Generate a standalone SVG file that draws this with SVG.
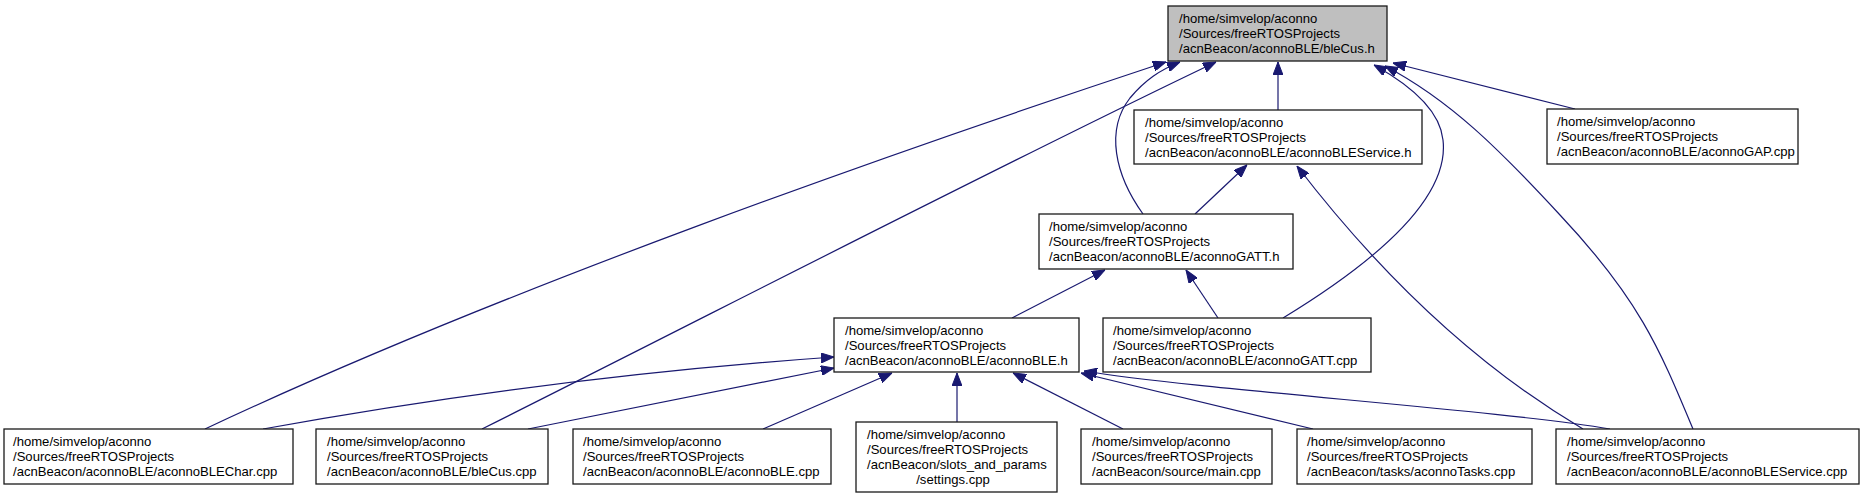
<svg xmlns="http://www.w3.org/2000/svg" width="1864" height="497" viewBox="0 0 1864 497">
<style>
.n rect{fill:#ffffff;stroke:#1a1a1a;stroke-width:1.3}
.n.root rect{fill:#bfbfbf}
.n text{font-family:"Liberation Sans",Arial,Helvetica,sans-serif;font-size:13.1px;fill:#000000}
.e path{fill:none;stroke:#191970;stroke-width:1.2;marker-end:url(#ah)}
</style>
<defs>
<marker id="ah" markerUnits="userSpaceOnUse" markerWidth="13" markerHeight="10" viewBox="0 0 13 10" refX="13" refY="5" orient="auto">
<path d="M0,0 L13,5 L0,10 z" fill="#191970" stroke="#191970" stroke-width="1"/>
</marker>
</defs>
<rect x="0" y="0" width="1864" height="497" fill="#ffffff"/>
<g id="connectors" class="e">
<path d="M1278,110 L1278,62"/>
<path d="M1575,109 L1393,63"/>
<path d="M1283,318 C1370,265 1450,200 1443,140 C1440,110 1410,85 1374,65"/>
<path d="M1693,429 C1660,350 1640,300 1560,215 C1500,150 1450,100 1385,66"/>
<path d="M1143,214 C1115,175 1105,130 1130,98 C1145,80 1160,70 1180,62"/>
<path d="M482,429 C700,320 1000,165 1216,62"/>
<path d="M205,429 C500,290 900,150 1166,62"/>
<path d="M1012,318 L1105,270"/>
<path d="M1218,318 L1186,270"/>
<path d="M1195,214 L1247,165"/>
<path d="M1583,429 C1500,380 1400,300 1297,166"/>
<path d="M263,429 C450,395 650,370 834,357"/>
<path d="M528,429 L834,368"/>
<path d="M763,429 L892,373"/>
<path d="M957,422 L957,373"/>
<path d="M1123,429 L1013,373"/>
<path d="M1313,429 L1081,373"/>
<path d="M1610,429 C1500,410 1200,390 1084,371"/>
</g>
<g id="node_root" class="n root">
<rect x="1168" y="6" width="219" height="55"/>
<text x="1179" y="22.5">/home/simvelop/aconno</text>
<text x="1179" y="37.5">/Sources/freeRTOSProjects</text>
<text x="1179" y="52.5">/acnBeacon/aconnoBLE/bleCus.h</text>
</g>
<g id="node_bleservice_h" class="n">
<rect x="1134" y="110" width="288" height="54"/>
<text x="1145" y="126.5">/home/simvelop/aconno</text>
<text x="1145" y="141.5">/Sources/freeRTOSProjects</text>
<text x="1145" y="156.5">/acnBeacon/aconnoBLE/aconnoBLEService.h</text>
</g>
<g id="node_gap_cpp" class="n">
<rect x="1547" y="109" width="251" height="55"/>
<text x="1557" y="125.5">/home/simvelop/aconno</text>
<text x="1557" y="140.5">/Sources/freeRTOSProjects</text>
<text x="1557" y="155.5">/acnBeacon/aconnoBLE/aconnoGAP.cpp</text>
</g>
<g id="node_gatt_h" class="n">
<rect x="1039" y="214" width="254" height="55"/>
<text x="1049" y="230.5">/home/simvelop/aconno</text>
<text x="1049" y="245.5">/Sources/freeRTOSProjects</text>
<text x="1049" y="260.5">/acnBeacon/aconnoBLE/aconnoGATT.h</text>
</g>
<g id="node_ble_h" class="n">
<rect x="834" y="318" width="245" height="54"/>
<text x="845" y="334.5">/home/simvelop/aconno</text>
<text x="845" y="349.5">/Sources/freeRTOSProjects</text>
<text x="845" y="364.5">/acnBeacon/aconnoBLE/aconnoBLE.h</text>
</g>
<g id="node_gatt_cpp" class="n">
<rect x="1103" y="318" width="268" height="54"/>
<text x="1113" y="334.5">/home/simvelop/aconno</text>
<text x="1113" y="349.5">/Sources/freeRTOSProjects</text>
<text x="1113" y="364.5">/acnBeacon/aconnoBLE/aconnoGATT.cpp</text>
</g>
<g id="node_blechar_cpp" class="n">
<rect x="4" y="429" width="289" height="55"/>
<text x="13" y="445.5">/home/simvelop/aconno</text>
<text x="13" y="460.5">/Sources/freeRTOSProjects</text>
<text x="13" y="475.5">/acnBeacon/aconnoBLE/aconnoBLEChar.cpp</text>
</g>
<g id="node_blecus_cpp" class="n">
<rect x="316" y="429" width="232" height="55"/>
<text x="327" y="445.5">/home/simvelop/aconno</text>
<text x="327" y="460.5">/Sources/freeRTOSProjects</text>
<text x="327" y="475.5">/acnBeacon/aconnoBLE/bleCus.cpp</text>
</g>
<g id="node_ble_cpp" class="n">
<rect x="573" y="429" width="258" height="55"/>
<text x="583" y="445.5">/home/simvelop/aconno</text>
<text x="583" y="460.5">/Sources/freeRTOSProjects</text>
<text x="583" y="475.5">/acnBeacon/aconnoBLE/aconnoBLE.cpp</text>
</g>
<g id="node_settings_cpp" class="n">
<rect x="856" y="422" width="201" height="70"/>
<text x="867" y="438.5">/home/simvelop/aconno</text>
<text x="867" y="453.5">/Sources/freeRTOSProjects</text>
<text x="867" y="468.5">/acnBeacon/slots_and_params</text>
<text x="953" y="483.5" text-anchor="middle">/settings.cpp</text>
</g>
<g id="node_main_cpp" class="n">
<rect x="1081" y="429" width="191" height="55"/>
<text x="1092" y="445.5">/home/simvelop/aconno</text>
<text x="1092" y="460.5">/Sources/freeRTOSProjects</text>
<text x="1092" y="475.5">/acnBeacon/source/main.cpp</text>
</g>
<g id="node_tasks_cpp" class="n">
<rect x="1297" y="429" width="235" height="55"/>
<text x="1307" y="445.5">/home/simvelop/aconno</text>
<text x="1307" y="460.5">/Sources/freeRTOSProjects</text>
<text x="1307" y="475.5">/acnBeacon/tasks/aconnoTasks.cpp</text>
</g>
<g id="node_bleservice_cpp" class="n">
<rect x="1556" y="429" width="303" height="55"/>
<text x="1567" y="445.5">/home/simvelop/aconno</text>
<text x="1567" y="460.5">/Sources/freeRTOSProjects</text>
<text x="1567" y="475.5">/acnBeacon/aconnoBLE/aconnoBLEService.cpp</text>
</g>
</svg>
